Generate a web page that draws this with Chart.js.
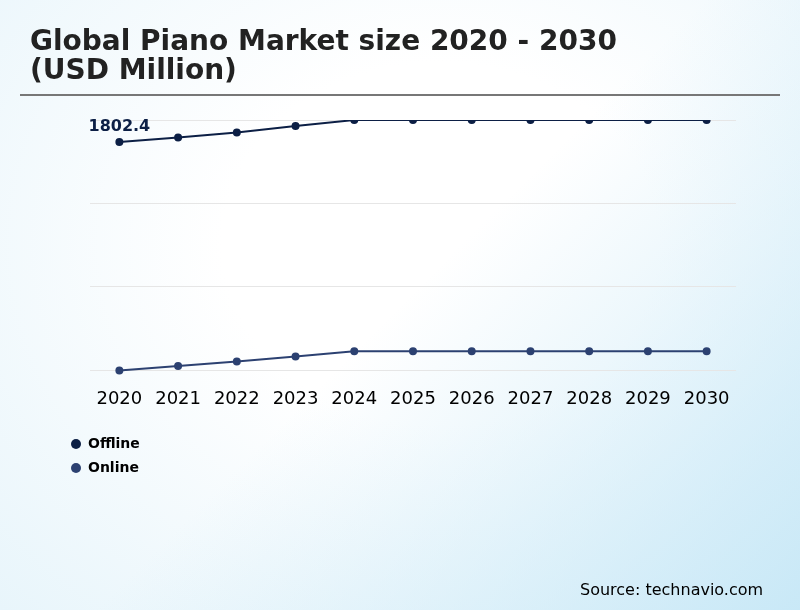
<!DOCTYPE html>
<html>
<head>
<meta charset="utf-8">
<script src="https://cdn.jsdelivr.net/npm/chart.js@4/dist/chart.umd.min.js"></script>
<style>
  html, body { margin: 0; padding: 0; }
  body {
    width: 800px; height: 610px; overflow: hidden;
    background:
      linear-gradient(135deg, rgba(255,255,255,0) 50%, rgba(195,230,246,0.85) 100%),
      radial-gradient(ellipse at 55% 40%, #ffffff 35%, #e8f5fb 100%);
    font-family: "DejaVu Sans", sans-serif;
  }
  #wrap { position: relative; width: 800px; height: 610px; }
</style>
</head>
<body>
<div id="wrap"><canvas id="c" width="800" height="610"></canvas></div>
<script>
const titleLines = ["Global Piano Market size 2020 - 2030", "(USD Million)"];
const sourceText = "Source: technavio.com";
const years = ["2020","2021","2022","2023","2024","2025","2026","2027","2028","2029","2030"];
const offlineValues = [1802.4, 1825.8, 1852.0, 1886.0, 1918.0, 1918.0, 1918.0, 1918.0, 1918.0, 1918.0, 1918.0];
const onlineValues = [600.0, 623.7, 647.4, 673.8, 700.2, 700.2, 700.2, 700.2, 700.2, 700.2, 700.2];
const seriesNames = ["Offline", "Online"];
const seriesColors = ["#0c1f45", "#2c4171"];
const yMin = 600, yMax = 1918;

const decorPlugin = {
  id: 'decor',
  afterDraw(chart) {
    const ctx = chart.ctx;
    ctx.save();
    // title
    ctx.fillStyle = '#222222';
    ctx.font = 'bold 28px "DejaVu Sans"';
    ctx.textBaseline = 'alphabetic';
    ctx.textAlign = 'left';
    ctx.fillText(titleLines[0], 30, 50);
    ctx.fillText(titleLines[1], 30, 79);
    // separator
    ctx.strokeStyle = '#777777';
    ctx.lineWidth = 2;
    ctx.beginPath(); ctx.moveTo(20, 95); ctx.lineTo(780, 95); ctx.stroke();
    // data label on first offline point
    const meta = chart.getDatasetMeta(0);
    const p = meta.data[0];
    ctx.fillStyle = '#0c1f45';
    ctx.font = 'bold 16px "DejaVu Sans"';
    ctx.textAlign = 'center';
    ctx.textBaseline = 'middle';
    ctx.fillText(offlineValues[0].toFixed(1), p.x, p.y - 15);
    // legend
    ctx.textAlign = 'left';
    ctx.font = 'bold 14px "DejaVu Sans"';
    chart.data.datasets.forEach((ds, i) => {
      const y = 444 + i * 24;
      ctx.fillStyle = ds.borderColor;
      ctx.beginPath(); ctx.arc(76, y, 5, 0, Math.PI * 2); ctx.fill();
      ctx.fillStyle = '#000000';
      ctx.fillText(ds.label, 88, y);
    });
    // source
    ctx.fillStyle = '#000000';
    ctx.font = '16px "DejaVu Sans"';
    ctx.textBaseline = 'alphabetic';
    ctx.fillText(sourceText, 580, 595);
    ctx.restore();
  }
};

new Chart(document.getElementById('c'), {
  type: 'line',
  data: {
    labels: years,
    datasets: [
      { label: seriesNames[0], data: offlineValues, borderColor: seriesColors[0], backgroundColor: seriesColors[0],
        borderWidth: 2, pointRadius: 3, pointHoverRadius: 3, tension: 0 },
      { label: seriesNames[1], data: onlineValues, borderColor: seriesColors[1], backgroundColor: seriesColors[1],
        borderWidth: 2, pointRadius: 3, pointHoverRadius: 3, tension: 0, clip: false }
    ]
  },
  options: {
    responsive: false,
    animation: false,
    layout: { padding: { left: 90, right: 64, top: 120, bottom: 182 } },
    plugins: { legend: { display: false }, tooltip: { enabled: false }, title: { display: false } },
    scales: {
      x: {
        offset: true,
        grid: { display: false, drawTicks: false },
        border: { display: false },
        ticks: { color: '#000000', font: { family: 'DejaVu Sans', size: 18 }, padding: 18, maxRotation: 0, autoSkip: false }
      },
      y: {
        min: yMin, max: yMax,
        ticks: { display: false, stepSize: (yMax - yMin) / 3 },
        grid: { color: '#e6e6e6', drawTicks: false, lineWidth: 1 },
        border: { display: false }
      }
    }
  },
  plugins: [decorPlugin]
});
</script>
</body>
</html>
